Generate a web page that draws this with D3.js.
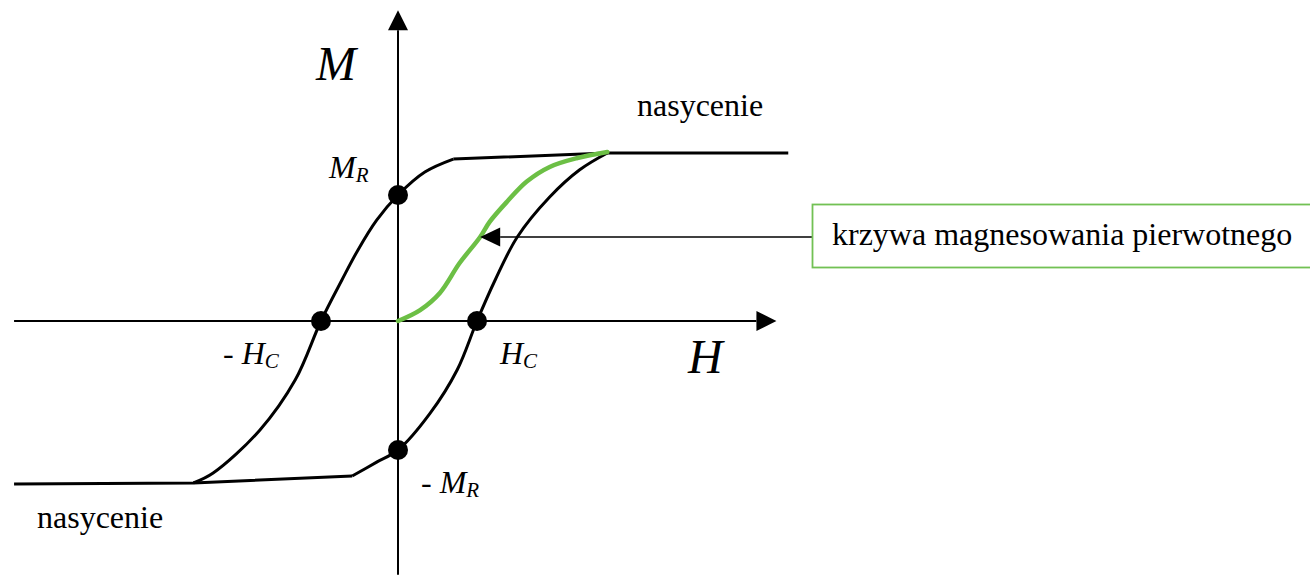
<!DOCTYPE html>
<html>
<head>
<meta charset="utf-8">
<script src="https://cdn.jsdelivr.net/npm/d3@7"></script>
<style>
  body { margin: 0; background: #fff; }
  text { font-family: 'Liberation Serif', 'Times New Roman', serif; fill: #000; }
</style>
</head>
<body>
<div id="chart"></div>
<script>
// data in units H (H_C = 1) and M (M_sat = 1)
const hAxisExtent = [-4.86, 4.79];
const mAxisExtent = [-1.51, 1.85];

// descending branch (from +saturation to -saturation)
const upperFlat = [[4.94, 1.0], [2.65, 1.0], [0.70, 0.964]];
const upperCurve = [
  [0.70, 0.964], [0.34, 0.887], [0, 0.75], [-0.27, 0.60], [-0.51, 0.42],
  [-0.71, 0.244], [-0.975, 0], [-1.30, -0.35], [-1.75, -0.65],
  [-2.34, -0.905], [-2.59, -0.964]
];
// ascending branch
const lowerFlat = [[-4.86, -0.97], [-2.59, -0.964], [-0.58, -0.923]];
const lowerCurve = [
  [-0.58, -0.923], [-0.27, -0.84], [0, -0.768], [0.405, -0.55], [0.75, -0.29],
  [1.0, 0], [1.23, 0.244], [1.51, 0.5], [1.92, 0.738], [2.30, 0.90], [2.65, 1.0]
];
// initial magnetisation curve
const initialCurve = [
  [0, 0], [0.28, 0.065], [0.53, 0.167], [0.78, 0.345], [1.04, 0.5],
  [1.16, 0.59], [1.38, 0.71], [1.63, 0.83], [1.92, 0.917], [2.27, 0.97], [2.65, 1.006]
];
const keyPoints = [[0, 0.75], [0, -0.768], [1.0, 0], [-0.975, 0]];
const pointerTarget = [1.04, 0.5];

const width = 1310, height = 575;
const x = d3.scaleLinear().domain([0, 1]).range([398, 477]);
const y = d3.scaleLinear().domain([0, 1]).range([321, 153]);

const svg = d3.select('#chart').append('svg')
  .attr('width', width)
  .attr('height', height);

const lin = d3.line().x((d) => x(d[0])).y((d) => y(d[1]));
const smooth = d3.line().x((d) => x(d[0])).y((d) => y(d[1])).curve(d3.curveCatmullRom.alpha(0.5));

// axes
svg.append('line')
  .attr('x1', x(hAxisExtent[0])).attr('x2', x(hAxisExtent[1]) - 20)
  .attr('y1', y(0)).attr('y2', y(0))
  .attr('stroke', '#000').attr('stroke-width', 2);
svg.append('path')
  .attr('d', 'M' + x(hAxisExtent[1]) + ',' + y(0) + 'L' + (x(hAxisExtent[1]) - 20) + ',' + (y(0) - 10) +
    'L' + (x(hAxisExtent[1]) - 20) + ',' + (y(0) + 10) + 'Z')
  .attr('fill', '#000');
svg.append('line')
  .attr('x1', x(0)).attr('x2', x(0))
  .attr('y1', y(mAxisExtent[0])).attr('y2', y(mAxisExtent[1]) + 20)
  .attr('stroke', '#000').attr('stroke-width', 2);
svg.append('path')
  .attr('d', 'M' + x(0) + ',' + y(mAxisExtent[1]) + 'L' + (x(0) - 10) + ',' + (y(mAxisExtent[1]) + 20) +
    'L' + (x(0) + 10) + ',' + (y(mAxisExtent[1]) + 20) + 'Z')
  .attr('fill', '#000');

// hysteresis loop
[upperFlat, lowerFlat].forEach((seg) => {
  svg.append('path').attr('d', lin(seg))
    .attr('fill', 'none').attr('stroke', '#000').attr('stroke-width', 3)
    .attr('stroke-linejoin', 'round');
});
[upperCurve, lowerCurve].forEach((seg) => {
  svg.append('path').attr('d', smooth(seg))
    .attr('fill', 'none').attr('stroke', '#000').attr('stroke-width', 3);
});

svg.append('path').attr('d', smooth(initialCurve))
  .attr('fill', 'none').attr('stroke', '#6cbf45').attr('stroke-width', 4.5)
  .attr('stroke-linecap', 'round');

svg.selectAll('.key')
  .data(keyPoints)
  .enter()
  .append('circle')
  .attr('class', 'key')
  .attr('cx', (d) => x(d[0]))
  .attr('cy', (d) => y(d[1]))
  .attr('r', 10)
  .attr('fill', '#000');

// pointer with label box
const tipX = x(pointerTarget[0]), tipY = y(pointerTarget[1]);
svg.append('line')
  .attr('x1', 813).attr('x2', tipX + 20)
  .attr('y1', tipY).attr('y2', tipY)
  .attr('stroke', '#000').attr('stroke-width', 1.5);
svg.append('path')
  .attr('d', 'M' + tipX + ',' + tipY + 'L' + (tipX + 20) + ',' + (tipY - 9.5) + 'L' + (tipX + 20) + ',' + (tipY + 9.5) + 'Z')
  .attr('fill', '#000');
svg.append('rect')
  .attr('x', 812.5).attr('y', 204.5).attr('width', 510).attr('height', 63)
  .attr('fill', 'none').attr('stroke', '#72c154').attr('stroke-width', 1.8);
svg.append('text').attr('x', 832).attr('y', 245)
  .style('font-size', '32px').text('krzywa magnesowania pierwotnego');

// labels
svg.append('text').attr('x', 637).attr('y', 116).style('font-size', '32px').text('nasycenie');
svg.append('text').attr('x', 37).attr('y', 528).style('font-size', '32px').text('nasycenie');

svg.append('text').attr('x', 316).attr('y', 80)
  .style('font-size', '48px').style('font-style', 'italic').text('M');
svg.append('text').attr('x', 688).attr('y', 373)
  .style('font-size', '48px').style('font-style', 'italic').text('H');

function subLabel(px, py, prefix, main, sub) {
  const t = svg.append('text').attr('x', px).attr('y', py).style('font-size', '32px');
  if (prefix) t.append('tspan').text(prefix);
  t.append('tspan').style('font-style', 'italic').text(main);
  t.append('tspan').attr('dy', 4).style('font-style', 'italic').style('font-size', '21px').text(sub);
}
subLabel(329, 178, null, 'M', 'R');
subLabel(500, 364, null, 'H', 'C');
subLabel(223, 364, '- ', 'H', 'C');
subLabel(421, 493, '- ', 'M', 'R');
</script>
</body>
</html>
